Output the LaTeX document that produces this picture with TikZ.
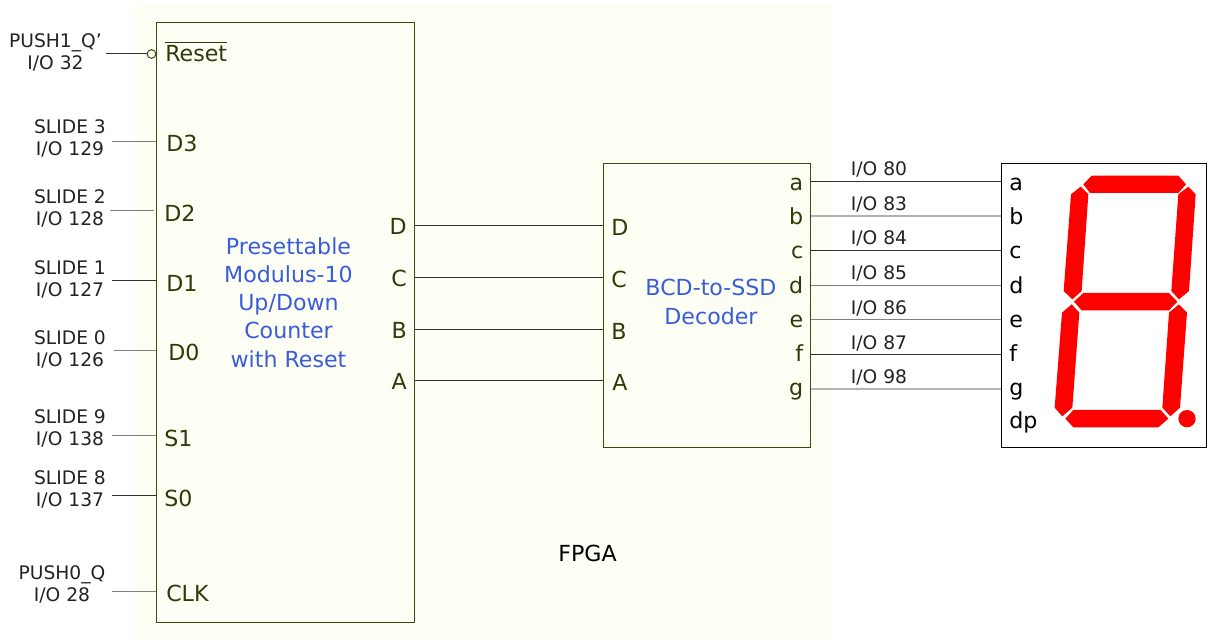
\documentclass[tikz,border=0pt]{standalone}
\usepackage{fontspec}
\setmainfont{DejaVu Sans}
\definecolor{fpgabg}{HTML}{FDFFF4}
\definecolor{olive}{HTML}{3F4A10}
\definecolor{pintext}{HTML}{2E3A08}
\definecolor{blocktext}{HTML}{3A5CD8}
\definecolor{wire}{HTML}{333333}
\definecolor{lbl}{HTML}{222222}
\tikzset{
  box/.style={draw=olive,line width=0.75pt,inner sep=0pt,anchor=north west},
  pintxt/.style={font=\fontsize{16.6pt}{18pt}\selectfont,text=pintext,inner sep=0pt},
  disptxt/.style={font=\fontsize{16.6pt}{18pt}\selectfont,text=black,inner sep=0pt},
  iolbl/.style={font=\fontsize{14pt}{16.5pt}\selectfont,text=lbl,inner sep=0pt,align=center},
  outlbl/.style={font=\fontsize{14pt}{15pt}\selectfont,text=lbl,inner sep=0pt},
  blocktxt/.style={font=\fontsize{16.6pt}{21.1pt}\selectfont,text=blocktext,inner sep=0pt,align=center},
  wireline/.style={draw=wire,line width=0.75pt},
  seg/.style={fill=red,draw=none}
}
\begin{document}
\begin{tikzpicture}[x=0.75pt,y=-0.75pt]
\useasboundingbox (0,0) rectangle (1208,641);
\fill[fpgabg] (134,5) rectangle (832,640);
\node[box,minimum width=193.5pt,minimum height=450pt] (main) at (156,22.5) {};
\node[box,minimum width=155pt,minimum height=212.5pt] (dec) at (603,163.5) {};
\node[box,draw=black,fill=white,minimum width=154pt,minimum height=212.5pt] (disp) at (1001,163.5) {};
% left labels
\node[iolbl] (lp1) at (55.5,52.5) {PUSH1\_Q'\\I/O 32};
\node[iolbl] (l3) at (70,138.5) {SLIDE 3\\I/O 129};
\node[iolbl] (l2) at (70,208.5) {SLIDE 2\\I/O 128};
\node[iolbl] (l1) at (70,279) {SLIDE 1\\I/O 127};
\node[iolbl] (l0) at (70,349) {SLIDE 0\\I/O 126};
\node[iolbl] (l9) at (70,428.5) {SLIDE 9\\I/O 138};
\node[iolbl] (l8) at (70,489) {SLIDE 8\\I/O 137};
\node[iolbl] (lc) at (62,584) {PUSH0\_Q\\I/O 28};
% main pins
\node[pintxt,anchor=west] (pr) at (165,52) {$\overline{\hbox{\vrule height 13.2pt width 0pt Reset}}$};
\node[pintxt,anchor=west] (p3) at (166,143) {D3};
\node[pintxt,anchor=west] (p2) at (164,213) {D2};
\node[pintxt,anchor=west] (p1) at (166,283) {D1};
\node[pintxt,anchor=west] (p0) at (168,352) {D0};
\node[pintxt,anchor=west] (s1) at (164,438) {S1};
\node[pintxt,anchor=west] (s0) at (164,498) {S0};
\node[pintxt,anchor=west] (pc) at (166,593) {CLK};
\node[pintxt,anchor=east] (qd) at (407,226) {D};
\node[pintxt,anchor=east] (qc) at (407,278) {C};
\node[pintxt,anchor=east] (qb) at (407,330) {B};
\node[pintxt,anchor=east] (qa) at (407,381) {A};
\node[blocktxt] (mtxt) at (288.5,302.5) {Presettable\\Modulus-10\\Up/Down\\Counter\\with Reset};
% decoder
\node[pintxt,anchor=west] (id) at (611,227) {D};
\node[pintxt,anchor=west] (ic) at (611,279) {C};
\node[pintxt,anchor=west] (ib) at (611,331) {B};
\node[pintxt,anchor=west] (ia) at (612,382) {A};
\node[blocktxt] (dtxt) at (711,302) {BCD-to-SSD\\Decoder};
\node[pintxt,anchor=base east] (oa) at (803.5,191) {a};
\node[pintxt,anchor=base east] (ob) at (803.5,225) {b};
\node[pintxt,anchor=base east] (oc) at (803.5,259) {c};
\node[pintxt,anchor=base east] (od) at (803.5,294) {d};
\node[pintxt,anchor=base east] (oe) at (803.5,328) {e};
\node[pintxt,anchor=base east] (of) at (803.5,362) {f};
\node[pintxt,anchor=base east] (og) at (803.5,396) {g};
\node[font=\fontsize{16.6pt}{18pt}\selectfont,text=black,inner sep=0pt] (fpga) at (587.5,553) {FPGA};
% display
\node[disptxt,anchor=base west] (da) at (1009,191) {a};
\node[disptxt,anchor=base west] (db) at (1009,225) {b};
\node[disptxt,anchor=base west] (dc) at (1009,259) {c};
\node[disptxt,anchor=base west] (dd) at (1009,294) {d};
\node[disptxt,anchor=base west] (de) at (1009,328) {e};
\node[disptxt,anchor=base west] (df) at (1009,362) {f};
\node[disptxt,anchor=base west] (dg) at (1009,396) {g};
\node[disptxt,anchor=base west] (ddp) at (1009,429) {dp};
% output labels
\node[outlbl] (t80) at (879,169) {I/O 80};
\node[outlbl] (t83) at (879,204) {I/O 83};
\node[outlbl] (t84) at (879,238) {I/O 84};
\node[outlbl] (t85) at (879,273) {I/O 85};
\node[outlbl] (t86) at (879,308) {I/O 86};
\node[outlbl] (t87) at (879,343) {I/O 87};
\node[outlbl] (t98) at (879,377) {I/O 98};
% input wires
\node[circle,draw=olive,line width=0.75pt,minimum size=6.5pt,inner sep=0pt] (bub) at (151.5,54) {};
\coordinate (wr) at (106,54);
\coordinate (w3) at (112,142);
\coordinate (w2) at (110,211);
\coordinate (w1) at (112,281);
\coordinate (w0) at (114,351);
\coordinate (w9) at (112,436);
\coordinate (w8) at (112,496);
\coordinate (wc) at (112,592);
\draw[wireline] (wr) -- (bub.west);
\draw[wireline,draw=gray] (w3) -- (main.west |- w3);
\draw[wireline,draw=gray] (w2) -- (154,211);
\draw[wireline] (w1) -- (main.west |- w1);
\draw[wireline,draw=gray] (w0) -- (main.west |- w0);
\draw[wireline,draw=gray] (w9) -- (main.west |- w9);
\draw[wireline] (w8) -- (main.west |- w8);
\draw[wireline,draw=gray] (wc) -- (main.west |- wc);
% inner wires
\draw[wireline] (main.east |- qd) -- (dec.west |- qd);
\draw[wireline] (main.east |- qc) -- (dec.west |- qc);
\draw[wireline] (main.east |- qb) -- (dec.west |- qb);
\draw[wireline] (main.east |- qa) -- (dec.west |- qa);
% output wires
\coordinate (ya) at (0,181.5);
\coordinate (yb) at (0,216);
\coordinate (yc) at (0,250.5);
\coordinate (yd) at (0,285.5);
\coordinate (ye) at (0,319.5);
\coordinate (yf) at (0,354.5);
\coordinate (yg) at (0,389);
\draw[wireline] (dec.east |- ya) -- (disp.west |- ya);
\draw[wireline,draw=gray!60,line width=1.2pt] (dec.east |- yb) -- (disp.west |- yb);
\draw[wireline] (dec.east |- yc) -- (disp.west |- yc);
\draw[wireline,draw=gray] (dec.east |- yd) -- (disp.west |- yd);
\draw[wireline,draw=gray] (dec.east |- ye) -- (disp.west |- ye);
\draw[wireline] (dec.east |- yf) -- (disp.west |- yf);
\draw[wireline,draw=gray!60,line width=1.2pt] (dec.east |- yg) -- (disp.west |- yg);
% seven segment digit
\begin{scope}[shift={(990,150)},x=0.25pt,y=-0.25pt]
\fill[seg] (280,103)--(305,77)--(565,77)--(588,103)--(565,129)--(300,129)--cycle;
\fill[seg] (595,110)--(617,133)--(597,423)--(567,448)--(544,423)--(565,133)--cycle;
\fill[seg] (272,110)--(295,133)--(275,423)--(247,448)--(221,423)--(243,133)--cycle;
\fill[seg] (252,455)--(280,429)--(537,429)--(562,455)--(537,481)--(275,481)--cycle;
\fill[seg] (567,463)--(591,488)--(570,773)--(541,799)--(517,773)--(537,488)--cycle;
\fill[seg] (245,463)--(268,488)--(247,773)--(217,799)--(194,773)--(216,488)--cycle;
\fill[seg] (226,806)--(250,780)--(512,780)--(535,806)--(505,832)--(250,832)--cycle;
\fill[seg] (591,806) circle[radius=6.5pt];
\end{scope}
\end{tikzpicture}
\end{document}
